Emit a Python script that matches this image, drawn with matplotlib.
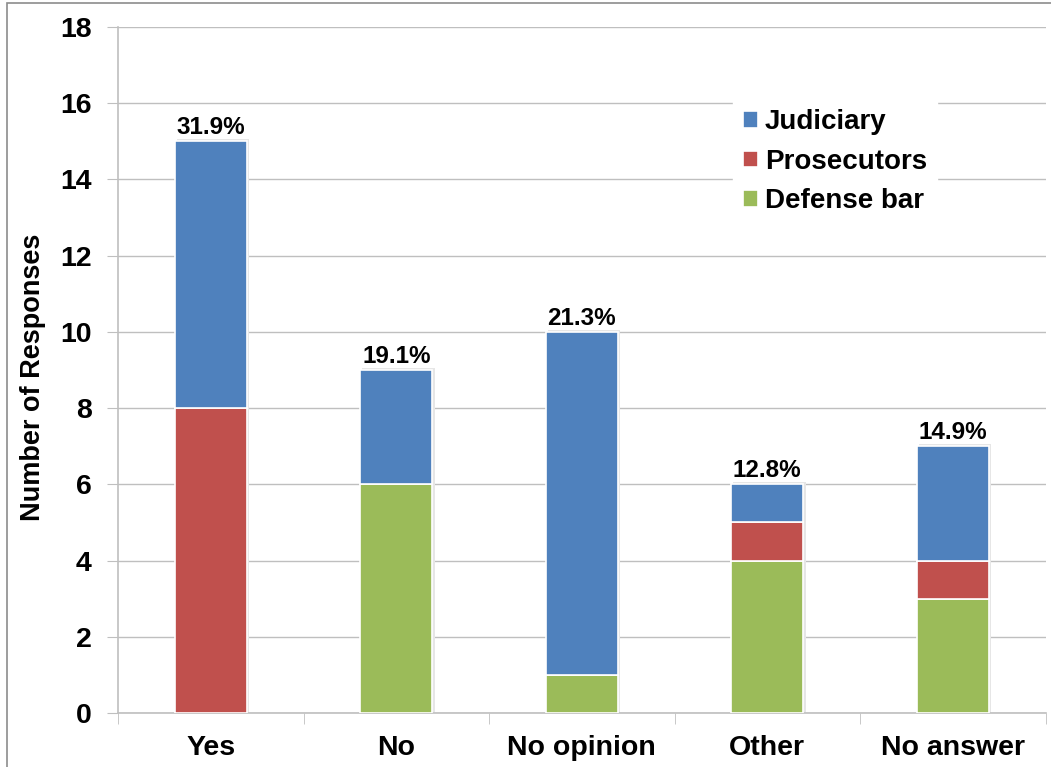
import matplotlib
matplotlib.use("Agg")
import matplotlib.pyplot as plt
from matplotlib.patches import Rectangle
import numpy as np

categories = ["Yes", "No", "No opinion", "Other", "No answer"]
defense_bar = [0, 6, 1, 4, 3]
prosecutors = [8, 0, 0, 1, 1]
judiciary = [7, 3, 9, 1, 3]
pct_labels = ["31.9%", "19.1%", "21.3%", "12.8%", "14.9%"]
y_ticks = [0, 2, 4, 6, 8, 10, 12, 14, 16, 18]

c_jud = "#4f81bd"
c_pro = "#c0504d"
c_def = "#9bbb59"
grid_c = "#bfbfbf"

plt.rcParams["font.family"] = ["Liberation Sans", "DejaVu Sans"]
plt.rcParams["font.weight"] = "bold"

fig = plt.figure(figsize=(10.51, 7.67), dpi=100)
ax = fig.add_axes([0.1123, 0.0704, 0.8825, 0.8944])

# outer chart border
fig.patches.append(Rectangle((7 / 1051, -0.01), 1.1, 1 - 3 / 767 + 0.01,
                             transform=fig.transFigure, fill=False,
                             edgecolor="#8c8c8c", linewidth=1.2, zorder=0))

x = np.arange(len(categories))
w = 0.39
d = np.array(defense_bar)
p = np.array(prosecutors)
j = np.array(judiciary)
tot = d + p + j

# soft shadow behind the stacks
ax.bar(x + 0.012, tot + 0.06, w, color="#e6e6e6", zorder=2, linewidth=0)

ax.bar(x, d, w, color=c_def, edgecolor="white", linewidth=1.2, zorder=3, label="Defense bar")
ax.bar(x, p, w, bottom=d, color=c_pro, edgecolor="white", linewidth=1.2, zorder=3, label="Prosecutors")
ax.bar(x, j, w, bottom=d + p, color=c_jud, edgecolor="white", linewidth=1.2, zorder=3, label="Judiciary")

for xi, t, lab in zip(x, tot, pct_labels):
    ax.text(xi, t + 0.06, lab, ha="center", va="bottom", fontsize=17.5,
            fontweight="bold", zorder=4)

ax.set_xlim(-0.5, 4.5)
ax.set_ylim(0, 18)
ax.set_yticks(y_ticks)
ax.set_yticklabels([str(v) for v in y_ticks], fontsize=20.5, fontweight="bold")
ax.set_xticks(x)
ax.set_xticklabels(categories, fontsize=20.5, fontweight="bold")
ax.tick_params(axis="x", length=0, pad=16)
ax.tick_params(axis="y", length=8, color=grid_c, pad=11)
ax.set_xticks(np.arange(-0.5, 5, 1), minor=True)
ax.tick_params(axis="x", which="minor", length=8, color=grid_c)

ax.yaxis.grid(True, color=grid_c, linewidth=1)
ax.set_axisbelow(True)
for s in ["top", "right"]:
    ax.spines[s].set_visible(False)
for s in ["left", "bottom"]:
    ax.spines[s].set_color(grid_c)
    ax.spines[s].set_linewidth(1.2)

ax.set_ylabel("Number of Responses", fontsize=19.5, fontweight="bold")
ax.yaxis.set_label_coords(-0.078, 0.49)

handles, labels = ax.get_legend_handles_labels()
leg = ax.legend(handles[::-1], labels[::-1], loc="upper left",
                bbox_to_anchor=(0.663, 0.894), frameon=True, fancybox=False,
                edgecolor="white", framealpha=1, prop={"size": 20, "weight": "bold"},
                handlelength=0.55, handleheight=0.55, handletextpad=0.25,
                labelspacing=0.48, borderpad=0.35, borderaxespad=0)
leg.set_zorder(5)

fig.savefig("out.png", dpi=100)
